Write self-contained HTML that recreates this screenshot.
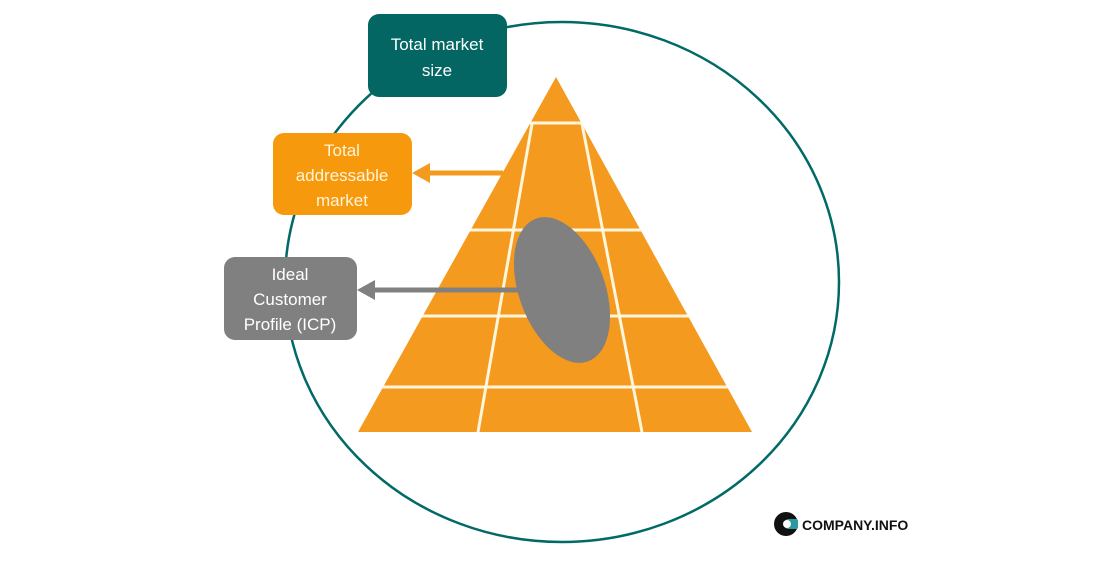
<!DOCTYPE html>
<html><head><style>
body{margin:0;width:1112px;height:556px;background:#fff;overflow:hidden;font-family:"Liberation Sans",sans-serif}
</style></head><body>
<svg width="1112" height="556" viewBox="0 0 1112 556" xmlns="http://www.w3.org/2000/svg">
<defs><clipPath id="tri"><polygon points="556,77 752,432 358,432"/></clipPath></defs>
<ellipse cx="562" cy="282" rx="277" ry="260" fill="none" stroke="#006a66" stroke-width="2.5"/>
<polygon points="556,77 752,432 358,432" fill="#f39a1f"/>
<g stroke="#fff6dc" stroke-width="3" clip-path="url(#tri)">
<line x1="400" y1="123" x2="700" y2="123"/>
<line x1="360" y1="230" x2="752" y2="230"/>
<line x1="360" y1="316" x2="752" y2="316"/>
<line x1="358" y1="387" x2="752" y2="387"/>
<line x1="532" y1="124" x2="478" y2="432"/>
<line x1="582" y1="124" x2="642" y2="432"/>
</g>
<ellipse cx="562" cy="290" rx="43" ry="76" fill="#808080" transform="rotate(-20 562 290)"/>
<line x1="503" y1="173" x2="425" y2="173" stroke="#f39a1f" stroke-width="5"/>
<polygon points="412,173 430,163 430,183" fill="#f39a1f"/>
<line x1="520" y1="290" x2="370" y2="290" stroke="#808080" stroke-width="5"/>
<polygon points="357,290 375,280 375,300" fill="#808080"/>
<rect x="368" y="14" width="139" height="83" rx="11" fill="#036663"/>
<rect x="273" y="133" width="139" height="82" rx="11" fill="#f7990d"/>
<rect x="224" y="257" width="133" height="83" rx="11" fill="#808080"/>
<g font-family="Liberation Sans, sans-serif" font-size="17" text-anchor="middle">
<text x="437" y="50" fill="#fff">Total market</text>
<text x="437" y="76" fill="#fff">size</text>
<text x="342" y="156" fill="#fff4d8">Total</text>
<text x="342" y="181" fill="#fff4d8">addressable</text>
<text x="342" y="206" fill="#fff4d8">market</text>
<text x="290" y="280" fill="#fff">Ideal</text>
<text x="290" y="305" fill="#fff">Customer</text>
<text x="290" y="330" fill="#fff">Profile (ICP)</text>
</g>
<circle cx="786" cy="524" r="12" fill="#111"/>
<rect x="786" y="519" width="12" height="10" rx="2" fill="#2a9aa0"/>
<circle cx="787" cy="524" r="4" fill="#fff"/>
<text x="802" y="530" font-family="Liberation Sans, sans-serif" font-size="14" font-weight="bold" fill="#111">COMPANY.INFO</text>
</svg>
</body></html>
